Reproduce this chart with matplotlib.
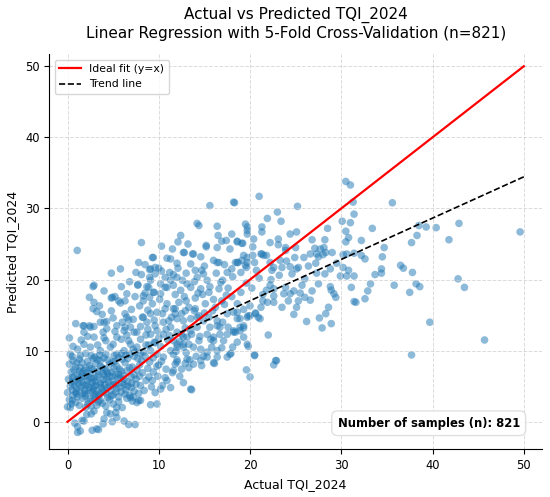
import matplotlib
matplotlib.use('Agg')
import matplotlib.pyplot as plt
import numpy as np

# Points (actual, predicted), grouped by region

# dense cluster, low actual values
low_pts = [
    (0.5,9.2),(1.3,8.8),(2.0,9.6),(2.8,8.9),(3.5,9.4),(4.4,8.7),(5.1,9.3),(6.0,8.8),(6.8,9.5),(7.7,8.9),(8.5,9.2),
    (0.2,8.1),(0.9,7.7),(1.6,8.3),(2.4,7.9),(3.1,8.2),(3.8,7.6),(4.6,8.1),(5.4,7.8),(6.3,8.3),(7.1,7.7),(7.9,8.0),(8.8,7.5),
    (0.4,7.0),(1.1,6.6),(1.8,7.2),(2.5,6.8),(3.3,7.1),(4.0,6.5),(4.8,7.0),(5.6,6.7),(6.5,7.2),(7.3,6.6),(8.2,6.9),(9.4,7.0),
    (0.1,6.0),(0.8,5.6),(1.5,6.2),(2.2,5.8),(2.9,6.1),(3.6,5.5),(4.3,6.0),(5.0,5.7),(5.8,6.1),(6.6,5.6),(7.5,6.0),(8.6,5.8),
    (0.3,5.0),(1.0,4.6),(1.7,5.2),(2.4,4.8),(3.1,5.1),(3.9,4.5),(4.6,5.0),(5.4,4.7),(6.2,5.2),(7.0,4.8),(8.0,5.1),(9.2,4.9),
    (0.0,4.1),(0.6,3.7),(1.3,4.3),(2.0,3.9),(2.7,4.2),(3.4,3.6),(4.2,4.0),(5.0,3.8),(5.9,4.2),(6.8,3.7),(7.8,4.0),
    (0.2,3.1),(0.9,2.7),(1.6,3.3),(2.3,2.9),(3.0,3.2),(3.8,2.6),(4.6,3.1),(5.6,2.8),(6.5,3.3),(7.6,2.7),
    (1.2,5.4),(2.7,5.5),(3.4,6.6),(4.1,7.4),(4.9,6.4),(2.1,6.9),(3.7,4.8),(5.3,5.3),(1.9,4.4),(2.6,7.5),
    (3.2,4.4),(4.5,5.6),(5.7,7.4),(0.7,6.3),(6.1,6.5),(1.4,7.6),(2.9,3.6),(4.7,4.4),(3.6,8.6),(5.2,8.5),
    (1.6,6.8),(2.3,6.3),(3.0,5.7),(3.9,5.9),(4.4,6.8),(5.5,6.2),(2.0,5.1),(2.8,4.6),(1.1,3.5),(0.5,4.5),
    (1.0,8.3),(2.2,8.5),(3.0,9.1),(4.0,9.0),(4.9,8.4),(5.9,9.6),(6.6,8.9),(7.4,9.8),(8.1,8.6),(9.0,8.4),
    (9.8,7.8),(10.3,8.5),(10.8,7.4),(9.9,6.4),(8.9,6.3),(7.9,6.4),(7.0,5.4),(6.0,5.5),(4.1,5.2),(1.5,5.7),
    (0.4,5.5),(0.9,4.1),(1.9,3.6),(2.5,3.3),(3.5,3.9),(4.4,3.4),(5.3,4.2),(6.3,3.9),(7.3,4.3),(8.4,4.4),
    (0.6,8.6),(1.4,9.3),(2.6,9.3),(3.3,8.7),(4.2,9.5),(5.6,9.0),(6.4,9.4),(7.3,9.2),(8.0,9.6),
    (0.7,7.3),(1.3,7.1),(2.0,7.6),(2.8,7.3),(3.6,7.8),(4.3,7.1),(5.1,7.5),(5.9,7.1),(6.8,7.6),(7.6,7.3),
    (0.5,6.2),(1.2,6.0),(1.9,6.4),(2.6,6.1),(3.2,6.3),(3.9,6.8),(4.6,6.4),(5.3,6.6),(6.2,6.0),(7.0,6.3),
    (0.8,5.1),(1.5,4.9),(2.2,5.3),(2.9,5.0),(3.6,5.3),(4.3,4.8),(5.0,5.2),(5.8,4.9),(6.6,5.0),(7.5,5.3),
    (1.0,3.9),(1.8,4.0),(2.4,4.4),(3.1,3.9),(3.9,4.2),(4.8,3.6),(5.6,3.5),(6.4,4.5),(7.2,3.5),
    (0.4,2.5),(1.3,2.3),(2.0,2.0),(2.6,2.2),(3.4,2.8),(4.2,2.2),(5.0,2.5),(6.0,2.0),
    (0.6,10.6),(1.5,11.5),(2.2,12.0),(3.3,10.8),(4.0,11.8),(5.0,10.9),(5.9,11.6),(7.2,10.2),(8.6,10.8),(9.5,11.2),
    (0.2,11.8),(3.9,12.6),(6.5,12.2),(8.8,13.0),(0.9,13.8),
    (0.0,2.1),(0.8,-0.2),(1.1,-0.7),(1.1,-1.5),(1.6,0.2),(2.7,-1.2),(3.4,-1.1),(3.9,-0.3),(4.9,0.0),
    (6.7,-0.4),(9.1,2.4),(7.1,2.9),(2.1,1.0),(2.6,1.1),(4.3,1.3),(5.3,1.3),(3.2,2.3),
    (7.4,-0.4),(8.0,3.0),(6.9,3.4),(5.4,2.0),(4.7,1.1),(4.0,0.4),(3.2,-1.0),(1.8,0.1),(1.4,-1.3),
    (0.3,2.0),(0.5,3.0),(2.2,2.5),(2.9,1.5),(3.6,3.0),(5.4,0.6),(6.2,0.1),
    (7.8,3.0),(9.6,4.1),(10.4,5.1),(11.3,4.8),(9.3,5.8),(10.7,6.2),(10.9,5.8),(10.2,4.6),(9.8,2.5),
    (12.7,5.5),(13.5,4.6),(13.6,4.5),(11.6,7.2),(11.8,8.1),(12.5,7.4),(12.9,8.2),(13.4,8.7),(12.0,8.7),(11.5,6.9),
    (0.3,9.5),(1.1,10.2),(1.8,10.9),(2.5,10.5),(3.6,10.0),(4.7,10.5),(5.4,9.5),(6.2,10.0),(6.9,10.9),(7.6,10.5),
    (8.3,9.8),(9.1,10.0),(9.8,9.5),(10.5,9.1),(11.3,10.0),(12.0,10.9),(12.7,10.5),
    (11.0,11.5),(10.2,10.6),(9.4,9.0),(10.0,8.0),(11.9,9.9),(13.0,9.7),(14.1,9.2),(14.6,8.6),(13.3,7.6),(12.3,6.4),
]

# middle band
mid_pts = [
    (1.8,13.5),(2.5,13.3),(3.6,14.0),(4.3,13.1),(5.4,13.5),(6.2,12.8),(6.9,13.3),(7.6,12.6),(1.8,12.6),(2.9,11.9),
    (4.2,11.4),(5.4,11.9),(6.7,11.4),(8.0,11.6),(9.1,12.3),(9.8,12.8),(10.5,12.3),(11.3,13.3),(12.0,12.6),(12.7,11.9),
    (13.5,12.8),(14.2,13.3),(15.3,12.3),(16.0,11.4),(16.7,13.3),(17.5,12.3),(18.4,12.6),(19.3,11.9),
    (19.7,10.9),(17.8,9.5),(16.4,9.1),(15.3,9.1),(16.0,8.3),(14.7,7.9),(13.8,8.1),
    (8.2,14.7),(9.1,15.2),(9.8,15.4),(10.7,15.9),(11.8,15.9),(12.5,15.2),(13.5,14.5),(14.4,14.9),(15.5,14.7),
    (16.4,14.2),(17.5,15.2),(18.6,15.4),(19.7,14.7),
    (7.7,19.2),(9.1,19.9),(8.3,17.7),(9.4,18.2),(6.5,18.0),(4.9,17.5),(5.6,17.0),(6.3,17.0),(2.9,16.8),
    (2.9,19.2),(2.4,17.5),(2.8,15.9),(2.8,19.0),(3.2,15.5),(1.7,13.5),(2.4,13.5),(2.9,13.4),
    (4.8,17.4),(5.2,17.6),(5.8,16.7),(4.0,14.0),(4.3,14.1),(5.0,14.6),(6.3,15.2),(6.5,14.7),(6.7,14.3),
    (7.7,19.3),(8.5,18.1),(9.0,17.5),(9.5,18.2),(9.3,16.6),(8.3,17.0),
    (6.3,13.3),(7.3,12.6),(8.3,14.7),(8.7,14.0),(9.6,13.5),(10.5,14.0),(11.3,13.3),
    (10.9,16.6),(11.6,15.9),(11.1,14.2),(10.7,18.9),(11.6,19.2),
    (11.8,15.2),(12.0,14.5),(12.7,14.2),(13.5,14.5),(14.2,14.7),(14.9,14.2),(13.6,12.3),(14.4,11.4),(15.3,12.3),
    (16.0,11.9),(16.7,12.3),(17.1,11.4),(16.4,13.5),(15.6,13.3),(17.6,13.3),(18.2,12.6),(18.9,12.8),(19.3,13.5),
    (20.0,14.9),(20.6,15.2),(21.1,14.5),(18.6,14.5),(11.6,11.4),(12.0,10.5),(12.7,10.9),(13.1,11.9),(12.5,12.3),
    (15.8,10.5),(16.4,10.0),(15.3,9.8),(14.6,10.2),(13.8,10.5),(11.6,9.5),(12.0,8.4),(13.1,8.8),
    (14.9,9.2),(15.3,9.1),(16.1,8.2),(17.5,9.1),(17.9,9.6),(19.6,7.3),(20.0,6.3),(20.5,9.3),(19.8,10.6),
    (18.6,11.2),(22.0,12.2),(22.6,8.0),(22.9,8.6),(19.3,13.2),(18.9,13.3),
    (18.2,12.8),(18.9,14.5),(19.8,14.9),(20.6,15.3),(20.0,16.3),(19.3,15.8),(18.2,15.4),(20.9,14.7),
    (7.0,15.8),(7.9,16.3),(8.8,15.7),(10.1,17.2),(12.2,16.8),(13.3,16.1),(14.0,17.4),(15.1,16.6),(16.0,17.2),(17.2,16.5),
    (18.0,17.6),(19.0,18.2),(20.2,18.8),(21.0,20.2),(22.3,20.0),(17.0,19.9),(18.1,20.4),(19.6,19.5),(16.3,20.9),(15.0,21.9),
    (13.0,20.9),(12.1,21.6),(11.2,21.0),(10.2,19.4),(9.0,20.3),(8.1,20.7),(6.8,19.7),(5.9,19.0),(4.0,18.4),(3.5,16.3),
    (12.8,17.6),(14.8,17.9),(16.9,17.0),(13.9,15.6),(15.9,15.6),(17.0,14.0),(12.9,13.2),(10.8,13.0),(9.6,11.1),(8.6,12.2),
    (8.9,10.8),(10.0,11.8),(11.2,12.1),(12.3,11.3),(13.3,10.9),(14.5,12.0),(15.7,11.6),(16.9,10.4),(18.1,10.5),
    (9.5,14.3),(10.4,15.2),(11.4,14.7),(12.9,15.6),(14.0,15.9),(15.0,15.3),(16.2,16.1),(17.4,17.8),(18.6,16.6),
    (8.0,13.4),(7.2,14.4),(6.0,14.0),(5.2,12.7),(4.8,15.6),(3.8,15.1),(7.4,17.6),(8.9,18.9),(10.2,18.0),(11.8,17.9),
    (13.0,17.0),(14.3,18.1),(15.5,18.2),(16.8,19.6),(12.6,19.9),(13.9,19.7),(14.9,20.8),(11.6,20.7),(10.3,21.2),(8.7,19.0),
]

# upper band
high_pts = [
    (1.06,24.1),(15.6,30.4),(18.2,30.9),(14.2,27.9),(14.4,27.6),(12.4,26.2),(12.1,25.3),
    (18.0,26.4),(16.9,25.4),(17.4,25.5),(18.6,25.3),(19.1,25.1),(15.2,24.8),(16.4,24.5),(13.8,23.6),(12.8,23.8),
    (9.4,23.1),(10.9,23.0),(11.3,22.9),(12.0,22.3),(7.8,22.4),(8.5,22.1),(9.1,21.5),(9.6,21.7),(10.0,21.6),
    (5.8,21.5),(4.8,20.9),(13.5,22.2),(14.0,21.3),(14.7,21.3),(16.0,22.7),(16.6,22.4),(17.2,22.1),(17.5,21.0),
    (18.4,22.4),(19.3,23.4),(19.5,22.0),(10.7,20.3),(11.3,19.9),(12.0,20.3),(13.1,19.4),(14.2,20.3),(15.3,19.9),
    (10.9,18.9),(12.4,18.5),(13.5,18.9),(14.6,18.7),(15.6,19.0),(16.6,18.7),(17.6,18.8),
    (9.3,23.1),(7.5,21.0),(9.0,21.4),(9.6,20.8),(16.4,27.5),(15.2,24.6),(12.7,23.8),(13.7,23.6),(14.6,23.2),
    (16.4,22.4),(18.7,22.4),(19.7,23.1),(20.3,23.4),(21.3,23.6),(21.8,23.4),
    (11.5,24.3),(10.3,24.7),(8.1,25.2),(17.8,24.3),(20.4,25.7),(22.2,25.2),(21.9,28.6),(16.5,26.2),(13.2,25.0),(23.0,29.5),
    (24.0,22.6),(25.0,24.5),(26.4,21.9),(27.2,22.3),(29.5,22.3),
]

# right side, sparse
right_pts = [
    (30.5,33.8),(31.0,33.3),(21.0,31.7),(18.3,30.8),(31.3,30.9),(35.6,30.8),(25.2,30.3),(31.4,29.2),
    (30.1,28.2),(31.0,28.0),(23.4,28.2),(19.5,27.8),(19.7,27.4),(19.7,26.9),(19.7,26.4),(21.3,27.4),(21.3,26.7),
    (28.5,27.2),(33.4,27.2),(38.5,27.6),(39.3,27.4),(40.4,27.3),(42.9,27.9),(49.6,26.7),(41.8,25.6),(37.7,25.2),
    (38.3,26.2),(24.4,26.4),(25.1,26.7),(30.5,26.8),(30.8,25.9),(30.5,25.3),(32.2,25.5),(26.8,25.6),(28.2,25.6),
    (18.6,25.4),(19.2,25.1),(23.1,25.7),(23.1,24.9),(23.9,24.5),(23.9,24.1),(34.7,24.5),
    (27.1,24.4),(27.7,24.3),(28.1,24.5),(28.3,23.8),(29.0,23.8),(27.5,23.2),(28.0,23.5),(30.2,23.5),(30.6,23.6),
    (31.4,23.7),(32.2,23.4),(32.6,22.9),(34.5,23.2),(20.3,24.6),(21.2,23.6),(21.5,23.4),(19.7,22.4),
    (19.1,22.7),(18.6,22.4),(20.5,22.4),(20.7,21.3),(19.6,21.7),(19.0,21.0),(18.0,21.5),(22.2,22.4),(22.6,21.7),
    (23.3,22.7),(22.4,21.3),(23.5,21.7),(23.2,20.6),(24.9,23.1),(25.9,23.1),(26.6,23.6),(27.3,23.6),(24.4,21.8),
    (25.1,21.5),(25.3,21.7),(24.6,20.8),(28.8,21.5),(28.2,20.8),(27.3,20.9),(29.9,20.5),(30.2,21.7),(30.6,20.5),
    (31.4,20.5),(30.8,21.3),(33.7,20.7),(34.4,21.5),(34.4,20.9),(36.5,22.0),(36.8,21.6),(37.8,21.0),(38.2,19.4),
    (38.6,19.0),(37.5,18.2),(42.8,20.1),(43.5,18.9),(39.7,14.0),(45.7,11.5),(37.7,9.4),(35.8,19.2),(33.2,19.4),
    (32.9,18.4),(32.6,17.3),(31.6,16.8),(31.4,16.9),(31.1,18.9),(28.8,19.0),(28.9,18.5),(29.2,18.0),(29.4,17.5),
    (28.6,16.1),(28.3,15.2),(28.9,13.8),(27.9,13.2),(27.6,14.6),(27.5,19.4),(26.8,18.4),(26.6,17.1),(26.2,14.1),
    (26.0,17.5),(25.5,18.1),(25.3,17.0),(25.1,16.1),(24.8,15.1),(26.0,20.1),(25.7,19.2),(24.4,18.0),(23.9,18.9),
    (23.7,18.0),(23.5,16.1),(24.2,17.0),(24.8,18.4),(22.6,18.7),(22.6,17.7),(22.2,19.2),(21.8,18.5),(21.4,17.9),
    (21.2,16.1),(21.4,17.0),(21.9,16.8),(22.6,16.8),(22.8,8.6),(20.5,9.4),
]

n_samples = 821
trend_slope = 0.581
trend_intercept = 5.4
line_x = [0, 50]

pts = np.unique(np.array(low_pts + mid_pts + high_pts + right_pts), axis=0)
actual = pts[:, 0]
predicted = pts[:, 1]

fig, ax = plt.subplots(figsize=(5.5, 4.97), dpi=100)
fig.subplots_adjust(left=0.0896, right=0.9855, top=0.891, bottom=0.0956)

ax.scatter(actual, predicted, s=30, color='#1f77b4', alpha=0.5, edgecolors='none')
ax.plot(line_x, line_x, color='red', lw=1.6, label='Ideal fit (y=x)')
trend_y = [trend_intercept + trend_slope * v for v in line_x]
ax.plot(line_x, trend_y, color='black', ls='--', lw=1.2, label='Trend line')

ax.set_xlim(-2.0, 52.0)
ax.set_ylim(-3.9, 51.7)
ax.set_xticks([0, 10, 20, 30, 40, 50])
ax.set_yticks([0, 10, 20, 30, 40, 50])
ax.tick_params(labelsize=8.3)
ax.grid(True, ls='--', color='#cccccc', lw=0.7, alpha=0.7)
ax.spines['top'].set_visible(False)
ax.spines['right'].set_visible(False)

ax.set_xlabel('Actual TQI_2024', fontsize=9)
ax.set_ylabel('Predicted TQI_2024', fontsize=9)
ax.set_title('Actual vs Predicted TQI_2024\nLinear Regression with 5-Fold Cross-Validation (n=%d)' % n_samples,
             fontsize=11, pad=12)
ax.legend(loc='upper left', fontsize=7.8)

ax.text(0.955, 0.05, 'Number of samples (n): %d' % n_samples, transform=ax.transAxes,
        ha='right', va='bottom', fontsize=8.4, fontweight='bold',
        bbox=dict(boxstyle='round,pad=0.5', facecolor='white', edgecolor='#dddddd', alpha=0.9))

plt.savefig('out.png', dpi=100)
